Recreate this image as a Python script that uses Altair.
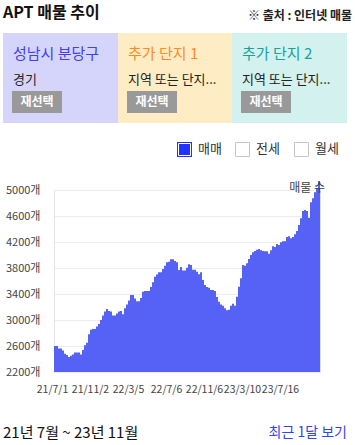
import altair as alt
import pandas as pd

# ---- data ----
listing_counts = [
    2600, 2600, 2560, 2560, 2530, 2480, 2460, 2430, 2450, 2470,
    2500, 2500, 2500, 2470, 2540, 2610, 2650, 2780, 2850, 2860,
    2860, 2900, 2940, 3000, 3070, 3130, 3170, 3140, 3130, 3070,
    3070, 3100, 3130, 3140, 3090, 3180, 3240, 3300, 3385, 3385,
    3330, 3290, 3290, 3340, 3436, 3446, 3446, 3446, 3508, 3580,
    3667, 3700, 3733, 3733, 3785, 3836, 3887, 3897, 3933, 3933,
    3908, 3887, 3770, 3815, 3760, 3760, 3805, 3857, 3846, 3774,
    3774, 3744, 3703, 3733, 3615, 3540, 3508, 3497, 3462, 3462,
    3446, 3354, 3282, 3240, 3220, 3180, 3149, 3159, 3220, 3251,
    3220, 3359, 3513, 3641, 3846, 3836, 3872, 3938, 4000, 4041,
    4061, 4082, 4092, 4072, 4061, 4056, 4056, 4020, 4072, 4133,
    4123, 4169, 4154, 4195, 4210, 4210, 4277, 4287, 4256, 4277,
    4318, 4369, 4461, 4564, 4677, 4692, 4677, 4574, 4810, 4872,
    4964, 5026, 5138, 5103,
]
x_tick_labels = ["21/7/1", "21/11/2", "22/3/5", "22/7/6", "22/11/6", "23/3/10", "23/7/16"]
x_tick_index = [0, 18, 37, 56, 75, 94, 113]
y_ticks = [2200, 2600, 3000, 3400, 3800, 4200, 4600, 5000]

box_titles = ["성남시 분당구", "추가 단지 1", "추가 단지 2"]
box_subtitles = ["경기", "지역 또는 단지...", "지역 또는 단지..."]
legend_items = ["매매", "전세", "월세"]

df = pd.DataFrame({"i": list(range(len(listing_counts))), "v": listing_counts})

FONT = "Noto Sans CJK KR"
OX, OY = 54, 190          # plot origin on the page
W, H = 266, 182

label_expr = "".join(
    f"datum.value == {i} ? '{t}' : " for i, t in zip(x_tick_index, x_tick_labels)
) + "''"

area = alt.Chart(df).mark_area(interpolate="step-after", color="#5562f5", opacity=1).encode(
    x=alt.X("i:Q", scale=alt.Scale(domain=[0, len(listing_counts) - 1], nice=False, zero=False),
            axis=alt.Axis(values=x_tick_index, labelExpr=label_expr, grid=False, domain=False,
                          ticks=False, tickSize=0, labelPadding=12, labelFlush=False,
                          labelOverlap=False, labelFontSize=10.5, labelColor="#444444",
                          labelOffset={"condition": {"test": "datum.value == 0", "value": -2}, "value": 0},
                          labelFont=FONT, title=None)),
    y=alt.Y("v:Q", scale=alt.Scale(domain=[2200, 5000], nice=False, zero=False),
            axis=alt.Axis(values=y_ticks, labelExpr="datum.value + '개'", grid=True,
                          gridColor="#ececec", domain=True, domainColor="#e6e6e6",
                          ticks=False, tickSize=0, labelPadding=14, labelFontSize=11,
                          labelColor="#444444", labelFont=FONT, title=None)),
    y2=alt.datum(2200),
)


def ui_text(text, ax, ay, size, color, weight="normal", align="left"):
    return alt.Chart(alt.Data(values=[{}])).mark_text(
        text=text, fontSize=size, color=color, fontWeight=weight, align=align,
        baseline="middle", font=FONT,
    ).encode(x=alt.value(ax - OX), y=alt.value(ay - OY))


def ui_rect(ax1, ay1, ax2, ay2, fill, stroke=None, sw=1):
    kw = dict(fill=fill)
    if stroke is not None:
        kw.update(stroke=stroke, strokeWidth=sw)
    else:
        kw.update(strokeWidth=0)
    return alt.Chart(alt.Data(values=[{}])).mark_rect(**kw).encode(
        x=alt.value(ax1 - OX), x2=alt.value(ax2 - OX),
        y=alt.value(ay1 - OY), y2=alt.value(ay2 - OY),
    )


ui = []
# header
ui.append(ui_text("APT 매물 추이", 3, 13, 16, "#111111", "bold"))
ui.append(ui_text("※ 출처 : 인터넷 매물", 352, 16, 12, "#222222", "bold", "right"))

# selection boxes
box_x = [(3, 118), (118, 232), (232, 347)]
box_fill = ["#d5d5fc", "#feecc5", "#d3f1ef"]
box_color = ["#4040f2", "#ff8a1e", "#17a39b"]
for k in range(3):
    x1, x2 = box_x[k]
    ui.append(ui_rect(x1, 33, x2, 123, box_fill[k]))
    ui.append(ui_text(box_titles[k], x1 + 10, 54, 15, box_color[k], "normal"))
    ui.append(ui_text(box_subtitles[k], x1 + 10, 80, 13, "#222222"))
    ui.append(ui_rect(x1 + 9, 91, x1 + 59, 113, "#999999"))
    ui.append(ui_text("재선택", x1 + 34, 102, 12, "#ffffff", "bold", "center"))

# legend checkboxes
cb_x = [177, 235, 294]
for k in range(3):
    cx = cb_x[k]
    if k == 0:
        ui.append(ui_rect(cx, 142, cx + 15, 157, "#2233ff"))
        ui.append(ui_rect(cx + 1.5, 143.5, cx + 13.5, 155.5, "#2233ff", "#ffffff", 1))
    else:
        ui.append(ui_rect(cx + 0.5, 142.5, cx + 14.5, 156.5, "#ffffff", "#c4c4d0", 1))
    ui.append(ui_text(legend_items[k], cx + 21, 149, 13, "#333333"))

# series label in the plot corner
ui.append(ui_text("매물 수", 325, 188, 12, "#444444", "normal", "right"))

# footer
ui.append(ui_text("21년 7월 ~ 23년 11월", 3, 433, 15, "#111111"))
ui.append(ui_text("최근 1달 보기", 347, 433, 14, "#3344ee", "normal", "right"))

chart = alt.layer(area, *ui).properties(
    width=W, height=H,
    autosize=alt.AutoSizeParams(type="none"),
    padding={"left": OX, "top": OY, "right": 355 - OX - W, "bottom": 445 - OY - H},
).configure_view(stroke=None).configure(background="#ffffff")

chart.save("out.html", embed_options={"renderer": "svg", "actions": False})
